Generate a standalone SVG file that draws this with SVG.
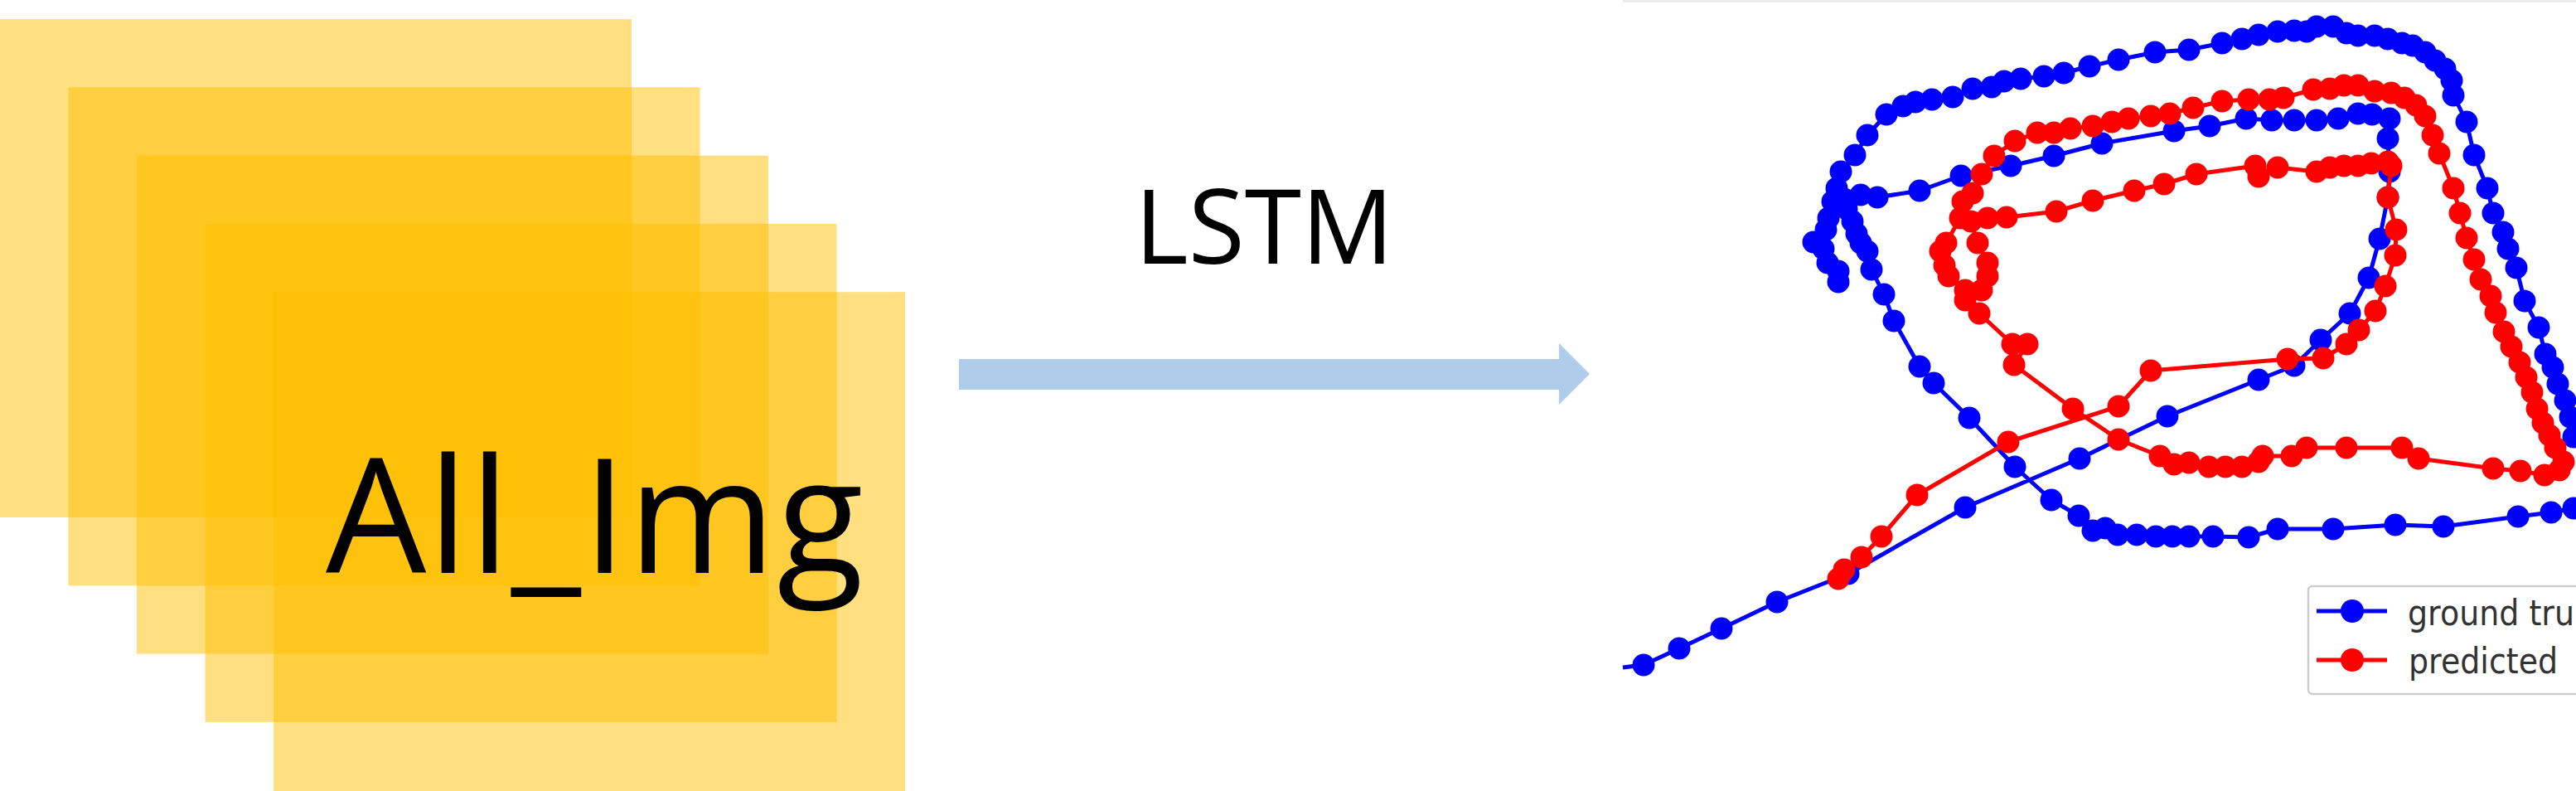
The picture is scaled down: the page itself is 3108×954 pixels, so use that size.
<svg xmlns="http://www.w3.org/2000/svg" width="3108" height="954" viewBox="0 0 3108 954">
<style>
.card{fill:#FFC000;fill-opacity:0.5}
.lbl{font-family:"Open Sans","Noto Sans","DejaVu Sans",sans-serif;fill:#000}
.gt{fill:none;stroke:#0000ff;stroke-width:5;stroke-linejoin:round;marker-mid:url(#mb);marker-end:url(#mb)}
.pr{fill:none;stroke:#ff0000;stroke-width:5;stroke-linejoin:round;marker-start:url(#mr);marker-mid:url(#mr);marker-end:url(#mr)}
.leg{font-family:"DejaVu Sans","Liberation Sans",sans-serif;font-size:38px;fill:#333}
</style>
<defs>
<marker id="mb" viewBox="-15 -15 30 30" markerWidth="30" markerHeight="30" refX="0" refY="0" markerUnits="userSpaceOnUse"><circle r="13.5" fill="#0000ff"/></marker>
<marker id="mr" viewBox="-15 -15 30 30" markerWidth="30" markerHeight="30" refX="0" refY="0" markerUnits="userSpaceOnUse"><circle r="13.5" fill="#ff0000"/></marker>
</defs>
<rect width="3108" height="954" fill="#ffffff"/>
<g id="all_img">
<rect class="card" x="0" y="23" width="762" height="601"/>
<rect class="card" x="82.5" y="105.3" width="762" height="601"/>
<rect class="card" x="165" y="187.6" width="762" height="601"/>
<rect class="card" x="247.5" y="269.9" width="762" height="601"/>
<rect class="card" x="330" y="352.2" width="762" height="601.8"/>
<text class="lbl" x="393" y="691" font-size="192" letter-spacing="1.8">All_Img</text>
</g>
<g id="connectors">
<polygon points="1157,433 1881,433 1881,414 1918,451 1881,488 1881,470 1157,470" fill="#AFCDEA"/>
<text class="lbl" x="1369" y="318" font-size="124">LSTM</text>
</g>
<g id="trajectory_plot">
<rect x="1958" y="0" width="1150" height="3" fill="#ebebeb"/>
<polyline class="gt" points="1958,805 1983,802 2026,782 2077,758 2144,726 2230,692 2371,612 2509,553 2615,502 2725,458 2768,441 2800,410 2835,378 2858,335 2871,288 2881,238 2883,207 2881,167 2883,143 2862,138 2845,137 2821,143 2795,145 2768,145 2741,145 2710,143 2666,152 2623,158 2536,173 2478,188 2426,200 2366,212 2316,230 2265,238 2245,235 2225,240 2216,227 2221,207 2238,187 2253,163 2276,138 2296,128 2311,123 2331,120 2356,117 2380,107 2403,105 2418,98 2438,95 2466,92 2490,88 2521,80 2556,72 2600,63 2641,60 2681,52 2705,47 2725,42 2748,38 2768,37 2783,38 2795,32 2815,32 2831,40 2845,43 2865,43 2881,47 2898,52 2911,55 2926,63 2938,73 2950,83 2958,97 2960,115 2976,147 2985,187 3001,227 3008,257 3020,280 3026,300 3036,323 3046,363 3063,395 3071,427 3080,443 3086,463 3095,483 3101,503 3105,527 3125,560 3125,610 3105,613 3078,618 3038,623 2948,635 2890,633 2815,638 2748,638 2713,648 2670,647 2641,647 2621,647 2601,647 2578,645 2555,645 2540,637 2525,640 2508,622 2475,603 2431,563 2376,504 2333,462 2316,442 2285,387 2273,355 2258,325 2253,303 2245,293 2240,282 2235,267 2228,252 2211,243 2206,263 2203,277 2188,292 2200,300 2205,317 2218,327 2218,340"/>
<polyline class="pr" points="2218,698 2225,687 2246,672 2270,647 2313,597 2423,533 2556,490 2595,447 2760,433 2803,432 2831,415 2846,398 2866,375 2878,345 2890,308 2891,277 2881,238 2885,200 2881,195 2861,197 2845,200 2828,200 2811,202 2795,207 2748,202 2725,213 2721,200 2650,210 2611,222 2575,230 2525,242 2481,255 2421,262 2398,263 2378,267 2386,293 2398,317 2398,333 2391,350 2371,350 2351,333 2346,320 2341,303 2348,293 2365,263 2368,243 2380,233 2391,210 2406,188 2431,170 2458,160 2478,160 2498,155 2525,152 2548,147 2568,143 2595,140 2618,137 2646,130 2681,122 2713,120 2738,120 2755,118 2791,108 2811,107 2828,103 2845,103 2865,110 2885,112 2901,118 2915,127 2926,140 2935,163 2943,185 2960,227 2968,257 2976,287 2985,313 2993,337 3005,357 3011,377 3021,400 3030,418 3040,437 3048,455 3055,473 3061,493 3068,510 3076,525 3083,540 3093,557 3088,567 3070,573 3041,568 3008,565 2918,553 2898,540 2831,540 2783,540 2765,550 2730,550 2725,557 2705,563 2685,563 2665,563 2641,558 2623,560 2606,550 2556,530 2501,493 2430,440 2446,415 2428,415 2388,378 2371,362"/>
<g id="legend">
<rect x="2785" y="707" width="360" height="130" rx="5" fill="#ffffff" fill-opacity="0.8" stroke="#cccccc" stroke-width="2.5"/>
<line x1="2795" y1="737" x2="2880" y2="737" stroke="#0000ff" stroke-width="5"/>
<circle cx="2838" cy="737" r="14" fill="#0000ff"/>
<line x1="2795" y1="796" x2="2880" y2="796" stroke="#ff0000" stroke-width="5"/>
<circle cx="2838" cy="796" r="14" fill="#ff0000"/>
<text class="leg" transform="translate(2905,754) scale(1,1.12)">ground tru</text>
<text class="leg" transform="translate(2906,812) scale(1,1.12)">predicted</text>
</g>
</g>
</svg>
